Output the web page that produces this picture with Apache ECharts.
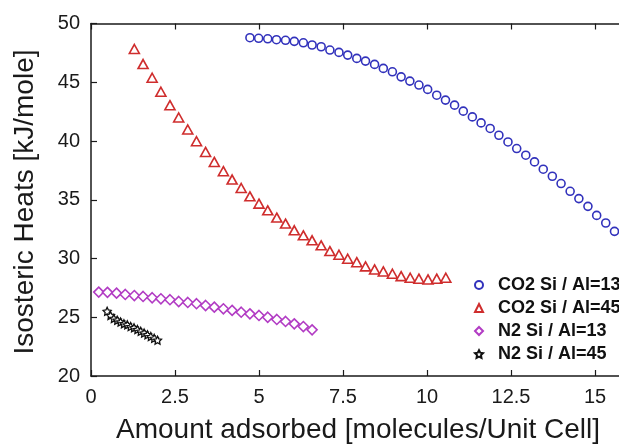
<!DOCTYPE html>
<html>
<head>
<meta charset="utf-8">
<script src="https://cdn.jsdelivr.net/npm/echarts@6/dist/echarts.min.js"></script>
<style>
html,body{margin:0;padding:0;background:#fff;}
#chart{width:619px;height:444px;}
</style>
</head>
<body>
<div id="chart"></div>
<script>
// ---- data ----
const seriesNames = ['CO2 Si / Al=13', 'CO2 Si / Al=45', 'N2 Si / Al=13', 'N2 Si / Al=45'];

const co2Al13X = [4.73,4.99,5.26,5.52,5.79,6.05,6.32,6.58,6.85,7.11,7.38,7.64,7.91,8.17,8.44,8.70,8.97,9.23,9.49,9.76,10.02,10.29,10.55,10.82,11.08,11.35,11.61,11.88,12.14,12.41,12.67,12.94,13.20,13.46,13.73,13.99,14.26,14.52,14.79,15.05,15.32,15.58];
const co2Al13Y = [48.79,48.74,48.70,48.62,48.57,48.48,48.36,48.17,48.02,47.74,47.54,47.31,47.03,46.80,46.52,46.18,45.89,45.46,45.10,44.76,44.39,43.90,43.48,43.05,42.54,42.05,41.54,41.07,40.49,39.92,39.36,38.79,38.22,37.60,37.00,36.38,35.72,35.10,34.44,33.67,33.02,32.31];

const co2Al45X = [1.29,1.55,1.82,2.08,2.35,2.61,2.88,3.14,3.41,3.67,3.94,4.20,4.47,4.73,5.00,5.26,5.53,5.79,6.05,6.32,6.58,6.85,7.11,7.38,7.64,7.91,8.17,8.44,8.70,8.97,9.23,9.50,9.76,10.03,10.29,10.56];
const co2Al45Y = [47.83,46.55,45.38,44.19,43.05,42.00,40.98,39.98,39.07,38.22,37.43,36.72,36.00,35.29,34.67,34.10,33.48,32.97,32.40,31.97,31.55,31.12,30.63,30.32,29.98,29.69,29.33,29.07,28.90,28.70,28.50,28.36,28.28,28.22,28.28,28.36];

const n2Al13X = [0.23,0.49,0.76,1.02,1.29,1.55,1.82,2.08,2.35,2.61,2.88,3.14,3.41,3.67,3.94,4.20,4.47,4.73,5.00,5.26,5.53,5.79,6.05,6.32,6.58];
const n2Al13Y = [27.14,27.12,27.05,26.94,26.85,26.77,26.66,26.57,26.49,26.34,26.26,26.15,26.00,25.86,25.72,25.58,25.43,25.29,25.15,25.00,24.81,24.64,24.44,24.21,23.93];

const n2Al45X = [0.48,0.58,0.68,0.78,0.88,0.98,1.08,1.18,1.28,1.38,1.48,1.58,1.68,1.78,1.88,1.98];
const n2Al45Y = [25.50,25.15,24.90,24.75,24.60,24.45,24.35,24.20,24.10,23.95,23.80,23.65,23.50,23.35,23.20,23.05];

const xTitle = 'Amount adsorbed [molecules/Unit Cell]';
const yTitle = 'Isosteric Heats [kJ/mole]';

// ---- chart ----
function pairs(xs, ys) { return xs.map((x, i) => [x, ys[i]]); }

const FONT = '"Liberation Sans", Arial, Helvetica, sans-serif';
const INK = '#1a1a1a';
const starPath = 'path://M0,-10L2.94,-4.05L9.51,-3.09L4.76,1.55L5.88,8.09L0,5L-5.88,8.09L-4.76,1.55L-9.51,-3.09L-2.94,-4.05Z';

const chart = echarts.init(document.getElementById('chart'), null, {renderer: 'canvas'});

const axisCommon = {
  type: 'value',
  axisLine: {show: true, onZero: false, lineStyle: {color: INK, width: 1.5}},
  axisTick: {show: true, inside: true, length: 6, lineStyle: {color: INK, width: 1.2}},
  splitLine: {show: false}
};

chart.setOption({
  animation: false,
  backgroundColor: '#fff',
  grid: {left: 91, top: 23.5, width: 588, height: 352.5, containLabel: false, outerBoundsMode: 'none'},
  xAxis: [
    Object.assign({}, axisCommon, {
      position: 'bottom', min: 0, max: 17.5, interval: 2.5,
      axisLabel: {color: INK, fontSize: 20, fontFamily: FONT, margin: 11}
    }),
    Object.assign({}, axisCommon, {
      position: 'top', min: 0, max: 17.5, interval: 2.5,
      axisLabel: {show: false}
    })
  ],
  yAxis: [
    Object.assign({}, axisCommon, {
      position: 'left', min: 20, max: 50, interval: 5,
      axisLabel: {color: INK, fontSize: 20, fontFamily: FONT, margin: 11}
    })
  ],
  legend: {
    orient: 'vertical',
    left: 474, top: 273.5, padding: 0,
    itemWidth: 8, itemHeight: 8, itemGap: 0,
    textStyle: {color: '#111', fontSize: 18, fontWeight: 'bold', fontFamily: FONT, lineHeight: 23, padding: [0, 0, 0, 10]},
    data: seriesNames
  },
  graphic: [
    {type: 'text', x: 358, y: 430, style: {text: xTitle, fontSize: 28, fontFamily: FONT, fill: INK, align: 'center', verticalAlign: 'middle'}},
    {type: 'text', x: 25, y: 202, rotation: Math.PI / 2, style: {text: yTitle, fontSize: 28, fontFamily: FONT, fill: INK, align: 'center', verticalAlign: 'middle'}}
  ],
  series: [
    {name: seriesNames[0], type: 'scatter', symbol: 'circle', symbolSize: 8,
     itemStyle: {color: '#fff', borderColor: '#3232bc', borderWidth: 1.6, opacity: 1},
     data: pairs(co2Al13X, co2Al13Y)},
    {name: seriesNames[1], type: 'scatter', symbol: 'triangle', symbolSize: [10, 9],
     itemStyle: {color: '#fff', borderColor: '#cf2d2d', borderWidth: 1.6, opacity: 1},
     data: pairs(co2Al45X, co2Al45Y)},
    {name: seriesNames[2], type: 'scatter', symbol: 'diamond', symbolSize: [10, 10],
     itemStyle: {color: '#fff', borderColor: '#b23cc4', borderWidth: 1.6, opacity: 1},
     data: pairs(n2Al13X, n2Al13Y)},
    {name: seriesNames[3], type: 'scatter', symbol: starPath, symbolSize: 8,
     itemStyle: {color: '#fff', borderColor: '#111', borderWidth: 1.3, opacity: 1},
     data: pairs(n2Al45X, n2Al45Y)}
  ]
});
</script>
</body>
</html>
